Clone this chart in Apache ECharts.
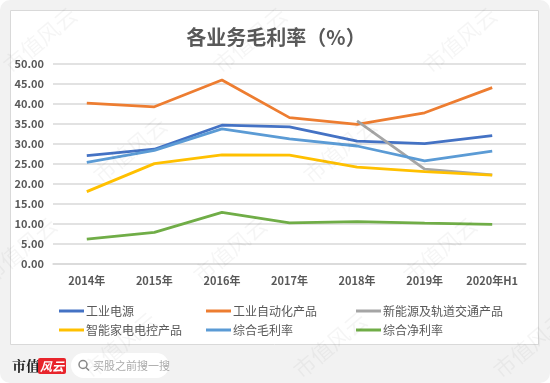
<!DOCTYPE html>
<html>
<head>
<meta charset="utf-8">
<script src="https://cdn.jsdelivr.net/npm/echarts@6/dist/echarts.min.js"></script>
<style>
html,body{margin:0;padding:0;background:#ffffff;}
#c{width:550px;height:383px;}
</style>
</head>
<body>
<div id="c"></div>
<script>
const categories = ['2014年','2015年','2016年','2017年','2018年','2019年','2020年H1'];
const powerSupply = [27.1, 28.7, 34.7, 34.3, 30.7, 30.1, 32.1];
const automation = [40.2, 39.3, 46.0, 36.6, 34.9, 37.8, 44.1];
const newEnergy = [null, null, null, null, 35.8, 23.7, 22.3];
const appliance = [18.1, 25.1, 27.3, 27.2, 24.2, 23.1, 22.2];
const grossMargin = [25.4, 28.4, 33.8, 31.3, 29.5, 25.8, 28.2];
const netMargin = [6.2, 7.9, 12.9, 10.3, 10.6, 10.2, 9.9];
const yTicks = [0, 5, 10, 15, 20, 25, 30, 35, 40, 45, 50];

const seriesDefs = [
  {name:'工业电源', data: powerSupply, color:'#4472C4'},
  {name:'工业自动化产品', data: automation, color:'#ED7D31'},
  {name:'新能源及轨道交通产品', data: newEnergy, color:'#A5A5A5'},
  {name:'智能家电电控产品', data: appliance, color:'#FFC000'},
  {name:'综合毛利率', data: grossMargin, color:'#5B9BD5'},
  {name:'综合净利率', data: netMargin, color:'#70AD47'}
];
const legendPos = [[54,300],[201,300],[351,300],[54,319],[201,319],[351,319]];

const chart = echarts.init(document.getElementById('c'));

const watermarks = [];
const wmPos = [[40,40],[250,40],[460,40],[130,150],[340,150],[20,250],[230,250],[440,250],[120,345],[330,345],[530,345]];
wmPos.forEach(p => {
  watermarks.push({
    type:'text', x:p[0], y:p[1], rotation: Math.PI*40/180, z: 100, silent:true,
    style:{text:'市值风云', fill:'rgba(0,0,0,0.04)', font:'22px "Noto Sans CJK SC"', align:'center', verticalAlign:'middle'}
  });
});

chart.setOption({
  backgroundColor:'#ffffff',
  animation:false,
  textStyle:{fontFamily:'"Noto Sans CJK SC", "Noto Sans", sans-serif'},
  title:{
    text:'各业务毛利率（%）', left:271, top:22, textAlign:'center',
    textStyle:{fontSize:20, fontWeight:'bold', color:'#595959'}
  },
  graphic:[
    {type:'rect', z:-10, shape:{x:0,y:0,width:550,height:383,r:10}, style:{fill:'#f2f2f2'}, silent:true},
    {type:'rect', z:-9, shape:{x:10.5,y:10.5,width:528,height:334}, style:{fill:'#ffffff', stroke:'#d9d9d9', lineWidth:1}, silent:true},
    {type:'text', x:12, y:366, style:{text:'市值', font:'bold 14px "Noto Serif CJK SC", "Noto Sans CJK SC"', fill:'#222', verticalAlign:'middle'}},
    {type:'rect', shape:{x:38,y:358,width:28,height:16,r:2}, style:{fill:'#e8242b'}},
    {type:'text', x:52, y:366, style:{text:'风云', font:'italic bold 12px "Noto Sans CJK SC"', fill:'#ffffff', align:'center', verticalAlign:'middle'}},
    {type:'rect', shape:{x:71,y:353,width:98,height:25,r:12.5}, style:{fill:'#ffffff'}},
    {type:'circle', shape:{cx:83,cy:364.5,r:4}, style:{fill:'none', stroke:'#888', lineWidth:1.5}},
    {type:'line', shape:{x1:86,y1:367.5,x2:89,y2:370.5}, style:{stroke:'#888', lineWidth:1.5}},
    {type:'text', x:93, y:366, style:{text:'买股之前搜一搜', font:'11px "Noto Sans CJK SC"', fill:'#aaaaaa', verticalAlign:'middle'}}
  ].concat(watermarks),
  legend: seriesDefs.map((s,i)=>({
    data:[s.name], left:legendPos[i][0], top:legendPos[i][1],
    icon:'rect', itemWidth:25, itemHeight:3, itemGap:0,
    textStyle:{fontSize:12, color:'#595959', padding:[0,0,0,-3]},
    selectedMode:false
  })),
  grid:{left:53, right:24, top:64, bottom:119},
  xAxis:{
    type:'category', data:categories, boundaryGap:true,
    axisLine:{show:true, lineStyle:{color:'#d9d9d9', width:1.5}},
    axisTick:{show:false},
    axisLabel:{color:'#595959', fontSize:11, fontWeight:'bold', margin:11, interval:0}
  },
  yAxis:{
    type:'value', min:yTicks[0], max:yTicks[yTicks.length-1], interval:yTicks[1]-yTicks[0],
    axisLine:{show:false}, axisTick:{show:false},
    splitLine:{lineStyle:{color:'#d9d9d9', width:1.5}},
    axisLabel:{color:'#595959', fontSize:11, fontWeight:'bold', margin:9, formatter:v=>v.toFixed(2)}
  },
  series: seriesDefs.map(s=>({
    name:s.name, type:'line', data:s.data, symbol:'none', showSymbol:false,
    connectNulls:false,
    lineStyle:{color:s.color, width:2.8}, itemStyle:{color:s.color}
  }))
});
</script>
</body>
</html>
